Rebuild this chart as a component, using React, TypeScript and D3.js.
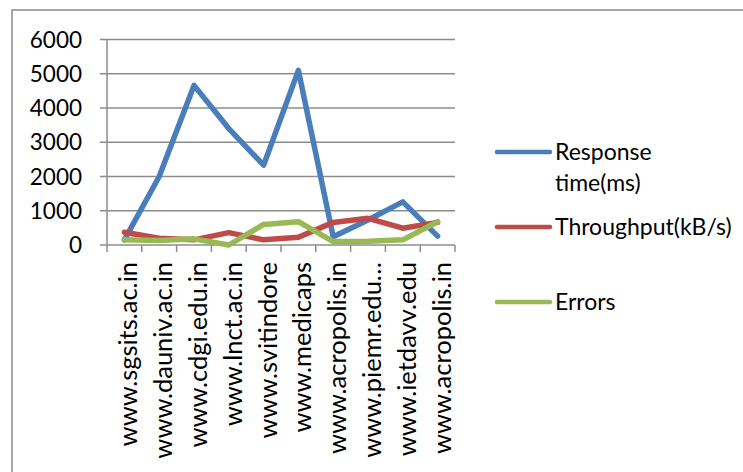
import React from "react";
import * as d3 from "d3";

const sites = [
  "www.sgsits.ac.in",
  "www.dauniv.ac.in",
  "www.cdgi.edu.in",
  "www.lnct.ac.in",
  "www.svitindore",
  "www.medicaps",
  "www.acropolis.in",
  "www.piemr.edu…",
  "www.ietdavv.edu",
  "www.acropolis.in",
];
const responseTime = [150, 2000, 4660, 3400, 2330, 5100, 240, 730, 1260, 260];
const throughput = [370, 195, 150, 360, 150, 225, 660, 780, 490, 660];
const errors = [150, 130, 180, 0, 600, 680, 100, 110, 150, 680];
const yTicks = [0, 1000, 2000, 3000, 4000, 5000, 6000];

const series = [
  { name: ["Response", "time(ms)"], values: responseTime, color: "#4a7ebb" },
  { name: ["Throughput(kB/s)"], values: throughput, color: "#be4b48" },
  { name: ["Errors"], values: errors, color: "#98b954" },
];

const W = 743;
const H = 472;
const font = "Lato, 'Open Sans', sans-serif";

export default function App() {
  const x = d3.scaleBand<number>().domain(d3.range(sites.length)).range([107, 455]);
  const y = d3.scaleLinear().domain([0, 6000]).range([245, 39.5]);
  const line = (vals: number[]) =>
    d3.line<number>()
      .x((_, i) => x(i)! + x.bandwidth() / 2)
      .y(d => y(d))(vals)!;

  const legendY = [152, 227, 302];

  return (
    <svg width={W} height={H} style={{ position: "absolute", left: 0, top: 0, background: "#fff" }}
      fontFamily={font}>
      <rect x={12} y={10} width={800} height={600} fill="#fff" stroke="#8a8a8a" strokeWidth={1.5} />
      {/* gridlines */}
      {yTicks.map(t => (
        <g key={t}>
          <line x1={100} x2={455} y1={y(t)} y2={y(t)} stroke="#8c8c8c" strokeWidth={1.5} />
          <text x={82} y={y(t)} dy="0.36em" textAnchor="end" fontSize={22.5} fill="#000">{t}</text>
        </g>
      ))}
      <line x1={107} x2={107} y1={y(6000)} y2={y(0)} stroke="#8c8c8c" strokeWidth={1.5} />
      {d3.range(sites.length + 1).map(i => {
        const xx = i < sites.length ? x(i)! : 455;
        return <line key={i} x1={xx} x2={xx} y1={245} y2={252} stroke="#8c8c8c" strokeWidth={1.5} />;
      })}
      {sites.map((s, i) => (
        <text key={i} transform={`translate(${x(i)! + x.bandwidth() / 2 + 13},262) rotate(-90)`}
          textAnchor="end" fontSize={25.5} fill="#000">{s}</text>
      ))}
      {series.map(s => (
        <path key={s.color} d={line(s.values)} fill="none" stroke={s.color} strokeWidth={5.5}
          strokeLinejoin="round" strokeLinecap="round" />
      ))}
      {series.map((s, k) => (
        <g key={k}>
          <line x1={497} x2={550} y1={legendY[k]} y2={legendY[k]} stroke={s.color} strokeWidth={4.5}
            strokeLinecap="round" />
          {s.name.map((n, j) => (
            <text key={j} x={555} y={legendY[k] + j * 31} dy="0.36em" fontSize={23} fill="#000">{n}</text>
          ))}
        </g>
      ))}
    </svg>
  );
}
